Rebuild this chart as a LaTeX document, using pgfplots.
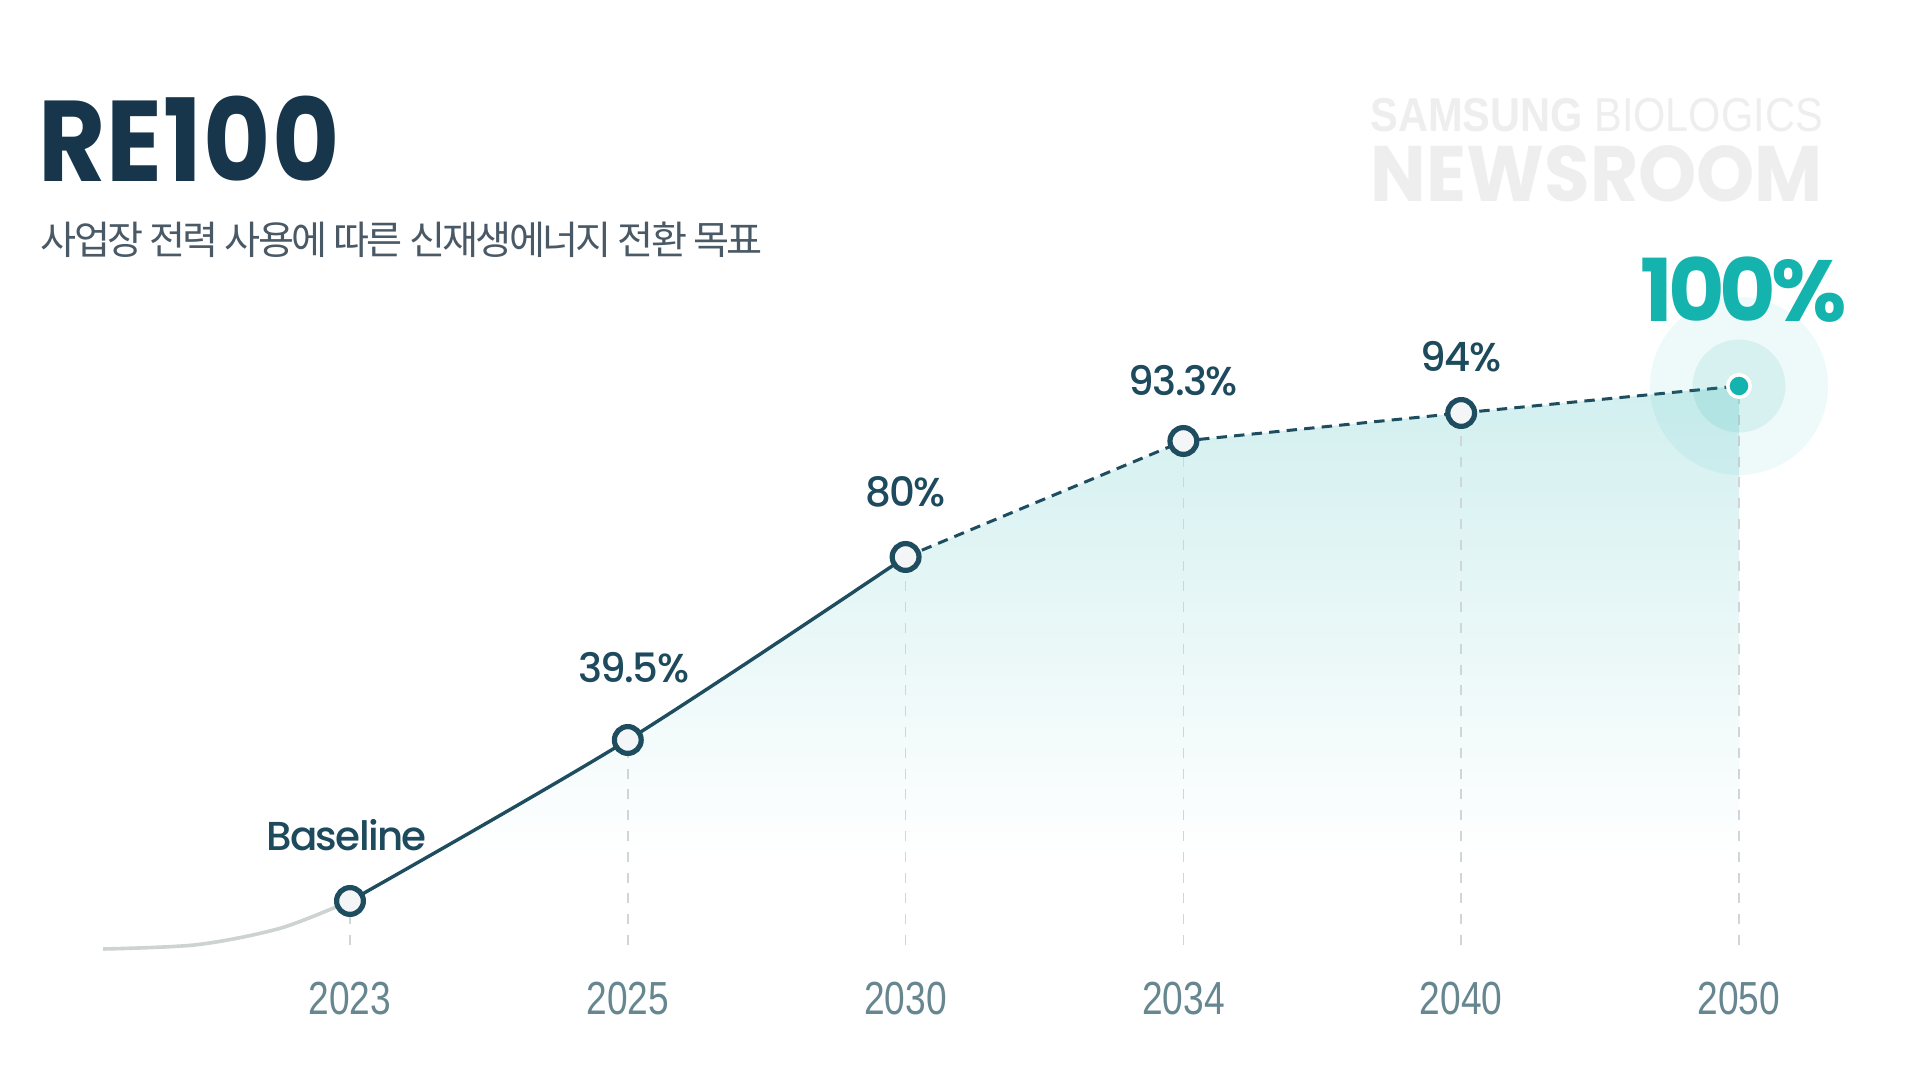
\documentclass[border=0pt]{standalone}
\usepackage{pgfplots}
\pgfplotsset{compat=1.18}
\usepackage{pgfplotstable}
\usepackage{graphicx}
\usepackage{fontspec}
\setmainfont{Poppins}
\newfontfamily\poppins{Poppins}
\newfontfamily\titlefont{Poppins}[FakeStretch=0.9,LetterSpace=1]
\newfontfamily\bigfont{Poppins}[LetterSpace=-6]
\newfontfamily\popmed{Poppins Medium}[LetterSpace=-4]
\newfontfamily\krfont{Noto Sans CJK KR}[LetterSpace=-7]
\newfontfamily\tickfont{Liberation Sans}[FakeStretch=0.8]
\newfontfamily\wmfont{Liberation Sans}

\definecolor{navytitle}{HTML}{17364C}
\definecolor{navyline}{HTML}{1E4D5F}
\definecolor{labeltext}{HTML}{1D4A5C}
\definecolor{subgray}{HTML}{4A5966}
\definecolor{tickgray}{HTML}{668690}
\definecolor{tealc}{HTML}{14B3AE}
\definecolor{fillTop}{HTML}{D2EFEF}
\definecolor{gridgray}{HTML}{D0D5D8}
\definecolor{greycurve}{HTML}{CDD2D2}
\definecolor{markfill}{HTML}{F4F5F7}
\definecolor{wm}{HTML}{EEEEEE}

% vertical fade used under the target curve
\pgfdeclareverticalshading{areafade}{100bp}{color(0bp)=(white); color(33bp)=(white); color(75bp)=(fillTop); color(100bp)=(fillTop)}

% share of renewable electricity (percent); 2023 is the baseline year
\pgfplotstableread{
x  y     off   xoff  lab
0  0     16.5  -0.9  Baseline
1  39.5  18.1  1.5   39.5\%
2  80    16.2  0     80\%
3  93.3  15.0  0     93.3\%
4  94    14.1  0     94\%
}\labtab

\begin{document}
\begin{tikzpicture}
\begin{axis}[
  scale only axis, width=480bp, height=270bp,
  xmin=-1.2599, xmax=5.6516, ymin=-43.92, ymax=185.78,
  % piecewise-linear vertical scale between the milestone values
  y coord trafo/.code={\pgfmathparse{(#1<39.5) ? (179+4.0759*(#1)) : ((#1<80) ? (340+4.5185*(#1-39.5)) : ((#1<93.3) ? (523+8.7218*(#1-80)) : ((#1<94) ? (639+40*(#1-93.3)) : (667+4.5*(#1-94)))))}},
  axis line style={draw=none}, tick style={draw=none}, major tick length=0pt,
  ytick=\empty,
  xtick={0,1,2,3,4,5},
  xticklabels={2023,2025,2030,2034,2040,2050},
  xticklabel style={font=\tickfont\fontsize{11.6bp}{13bp}\selectfont, text=tickgray, anchor=center, yshift=20.25bp},
  axis background/.style={fill=white},
  clip=false,
]
% shaded area under the target path
\addplot[draw=none, shade, shading=areafade] coordinates {(0,0) (1,39.5) (2,80) (3,93.3) (4,94) (5,100) (5,-11.78) (0,-11.78)};

% halo round the 2050 target
\addplot[only marks, mark=*, mark size=22.25bp, mark options={draw opacity=0, fill=tealc, fill opacity=0.072}] coordinates {(5,100)};
\addplot[only marks, mark=*, mark size=11.6bp, mark options={draw opacity=0, fill=tealc, fill opacity=0.11}] coordinates {(5,100)};

% drop lines
\pgfplotsset{drop/.style={gridgray, line width=0.4bp, dash pattern=on 2.5bp off 2.7bp}}
\addplot[drop] coordinates {(0,-10.8) (0,0)};
\addplot[drop] coordinates {(1,-10.8) (1,39.5)};
\addplot[drop] coordinates {(2,-10.8) (2,80)};
\addplot[drop] coordinates {(3,-10.8) (3,93.3)};
\addplot[drop] coordinates {(4,-10.8) (4,94)};
\addplot[drop] coordinates {(5,-10.8) (5,100)};

% lead-in before the baseline
\addplot[greycurve, line width=0.9bp, smooth] coordinates {(-0.889,-11.78) (-0.55,-10.72) (-0.25,-6.67) (0,0)};
% achieved / committed part
\addplot[navyline, line width=0.85bp, smooth] coordinates {(0,0) (1,39.5) (2,80)};
% planned part
\addplot[navyline, line width=0.75bp, dash pattern=on 2.6bp off 1.8bp] coordinates {(2,80) (3,93.3) (4,94) (5,100)};

% milestones
\addplot[only marks, mark=*, mark size=3.35bp, mark options={fill=markfill, draw=navyline, line width=1.3bp}] coordinates {(0,0) (1,39.5) (2,80) (3,93.3) (4,94)};
\addplot[only marks, mark=*, mark size=2.8bp, mark options={fill=tealc, draw=white, line width=0.9bp}] coordinates {(5,100)};

% value labels
\addplot[only marks, mark=none, nodes near coords, point meta=explicit symbolic,
  visualization depends on={\thisrow{off}\as\yoff},
  visualization depends on={\thisrow{xoff}\as\xoff},
  every node near coord/.append style={anchor=center, inner sep=0pt, xshift=\xoff bp, yshift=\yoff bp, font=\popmed\fontsize{10.1bp}{12bp}\selectfont, text=labeltext}]
  table[x=x, y=y, meta=lab] {\labtab};
\addplot[only marks, mark=none, nodes near coords, point meta=explicit symbolic,
  every node near coord/.append style={anchor=center, inner sep=0pt, xshift=1.2bp, yshift=24.2bp, font=\bigfont\bfseries\fontsize{21.7bp}{24bp}\selectfont, text=tealc}]
  coordinates {(5,100) [100\%]};

% heading
\node[anchor=base west, inner sep=0pt, text=navytitle, font=\titlefont\bfseries\fontsize{28.7bp}{30bp}\selectfont] at (rel axis cs:0.0195,0.8317) {RE100};
\node[anchor=base west, inner sep=0pt, text=subgray, font=\krfont\fontsize{9.8bp}{11bp}\selectfont] at (rel axis cs:0.0208,0.7640) {사업장 전력 사용에 따른 신재생에너지 전환 목표};

% newsroom mark
\node[anchor=south west, inner sep=0pt, text=wm] at (rel axis cs:0.7135,0.8769) {\resizebox{113bp}{8.3bp}{\wmfont\bfseries SAMSUNG \mdseries BIOLOGICS}};
\node[anchor=south west, inner sep=0pt, text=wm] at (rel axis cs:0.7135,0.8120) {\resizebox{113bp}{14bp}{\poppins\bfseries NEWSROOM}};
\end{axis}
\pgfresetboundingbox
\path[use as bounding box] (current axis.south west) rectangle (current axis.north east);
\end{tikzpicture}
\end{document}
